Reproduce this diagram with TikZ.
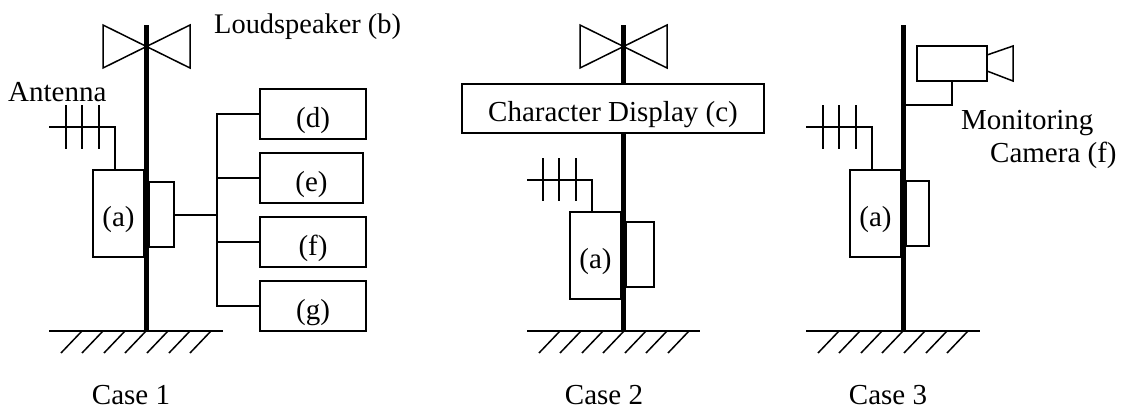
\documentclass[tikz,border=0pt]{standalone}
\usepackage{fontspec}
\setmainfont{Liberation Serif}
\usetikzlibrary{positioning}
\tikzset{
  unit/.style={draw,line width=1.5pt,inner sep=0pt,outer sep=0pt,text height=26pt,text depth=0pt},
  lbl/.style={anchor=base west,inner sep=0pt},
  caselbl/.style={anchor=base,inner sep=0pt},
  wire/.style={line width=1.5pt},
  pole/.style={line width=5pt}
}
\begin{document}
\begin{tikzpicture}[x=1pt,y=-1pt,font=\fontsize{29}{31}\selectfont]
\useasboundingbox (0,0) rectangle (1126,410);
%% case 1
\coordinate (top1) at (146,25);
\coordinate (gnd1) at (146,331);
\draw[wire] (103,25) -- (190,68) -- (190,25) -- (103,68) -- cycle;
\draw[pole] (top1) -- (gnd1);
\node[lbl,font=\fontsize{28.4}{30}\selectfont] (spk1) at (214,33) {Loudspeaker (b)};
\node[lbl] (ant1t) at (8,101) {Antenna};
% antenna
\coordinate (ant1s) at (49,127);
\coordinate (ant1) at (115,127);
\node[unit,minimum width=51pt,minimum height=87pt] (a1) at (118.5,213.5) {(a)\hspace{6pt}};
\draw[wire] (ant1s) -- (ant1) -- (ant1 |- a1.north);
\draw[wire] (66,105) -- (66,149) (82,105) -- (82,149) (99,105) -- (99,149);
\node[unit,minimum width=25pt,minimum height=65pt] (r1) at (161.5,214.5) {};
%% devices
\node[unit,minimum width=106pt,minimum height=50pt] (d) at (313,114) {(d)};
\node[unit,minimum width=103pt,minimum height=50pt,below=14pt of d.south west,anchor=north west] (e) {(e)};
\node[unit,minimum width=106pt,minimum height=50pt,below=14pt of e.south west,anchor=north west] (f) {(f)};
\node[unit,minimum width=106pt,minimum height=50pt,below=14pt of f.south west,anchor=north west] (g) {(g)};
\coordinate (bus) at (217,215);
\draw[wire] (r1.east |- bus) -- (bus);
\draw[wire] (d.west) -| (bus);
\draw[wire] (e.west) -| (bus);
\draw[wire] (f.west) -| (bus);
\draw[wire] (g.west) -| (bus);
% ground
\draw[wire] (49,331) -- (223,331);
\draw[wire] (82,331) -- ++(-21,22) (103,331) -- ++(-21,22) (125,331) -- ++(-21,22) (146,331) -- ++(-21,22)
 (168,331) -- ++(-21,22) (190,331) -- ++(-21,22) (211,331) -- ++(-21,22);
\node[caselbl] (case1) at (131,404) {Case 1};
%% case 2
\coordinate (top2) at (623,25);
\coordinate (gnd2) at (623,331);
\draw[wire] (580,25) -- (667,68) -- (667,25) -- (580,68) -- cycle;
\draw[pole] (top2) -- (gnd2);
\node[unit,fill=white,minimum width=302pt,minimum height=49pt] (disp) at (613,108.5) {Character Display (c)};
% antenna
\coordinate (ant2s) at (527,180);
\coordinate (ant2) at (592,180);
\node[unit,minimum width=51pt,minimum height=87pt] (a2) at (595.5,255.5) {(a)};
\draw[wire] (ant2s) -- (ant2) -- (ant2 |- a2.north);
\draw[wire] (543,158) -- (543,201) (559,158) -- (559,201) (576,158) -- (576,201);
\node[unit,minimum width=28pt,minimum height=65pt] (r2) at (640,254.5) {};
% ground
\draw[wire] (527,331) -- (700,331);
\draw[wire] (560,331) -- ++(-21,22) (581,331) -- ++(-21,22) (603,331) -- ++(-21,22) (624,331) -- ++(-21,22)
 (646,331) -- ++(-21,22) (667,331) -- ++(-21,22) (689,331) -- ++(-21,22);
\node[caselbl] (case2) at (604,404) {Case 2};
%% case 3
\coordinate (top3) at (903,25);
\coordinate (gnd3) at (903,331);
\draw[pole] (top3) -- (gnd3);
% camera
\node[unit,minimum width=70pt,minimum height=35pt] (cam) at (952,63.5) {};
\draw[wire] (987,55) -- (1013,46) -- (1013,81) -- (987,71);
\coordinate (mnt) at (905,105);
\draw[wire] (cam.south) |- (mnt);
\node[lbl] (mon) at (961,129) {Monitoring};
\node[lbl] (camt) at (990,162) {Camera (f)};
% antenna
\coordinate (ant3s) at (806,127);
\coordinate (ant3) at (872,127);
\node[unit,minimum width=51pt,minimum height=87pt] (a3) at (875.5,213.5) {(a)};
\draw[wire] (ant3s) -- (ant3) -- (ant3 |- a3.north);
\draw[wire] (823,105) -- (823,149) (839,105) -- (839,149) (856,105) -- (856,149);
\node[unit,minimum width=23pt,minimum height=65pt] (r3) at (917.5,213.5) {};
% ground
\draw[wire] (806,331) -- (980,331);
\draw[wire] (839,331) -- ++(-21,22) (860,331) -- ++(-21,22) (882,331) -- ++(-21,22) (903,331) -- ++(-21,22)
 (925,331) -- ++(-21,22) (947,331) -- ++(-21,22) (968,331) -- ++(-21,22);
\node[caselbl] (case3) at (888,404) {Case 3};
\end{tikzpicture}
\end{document}
